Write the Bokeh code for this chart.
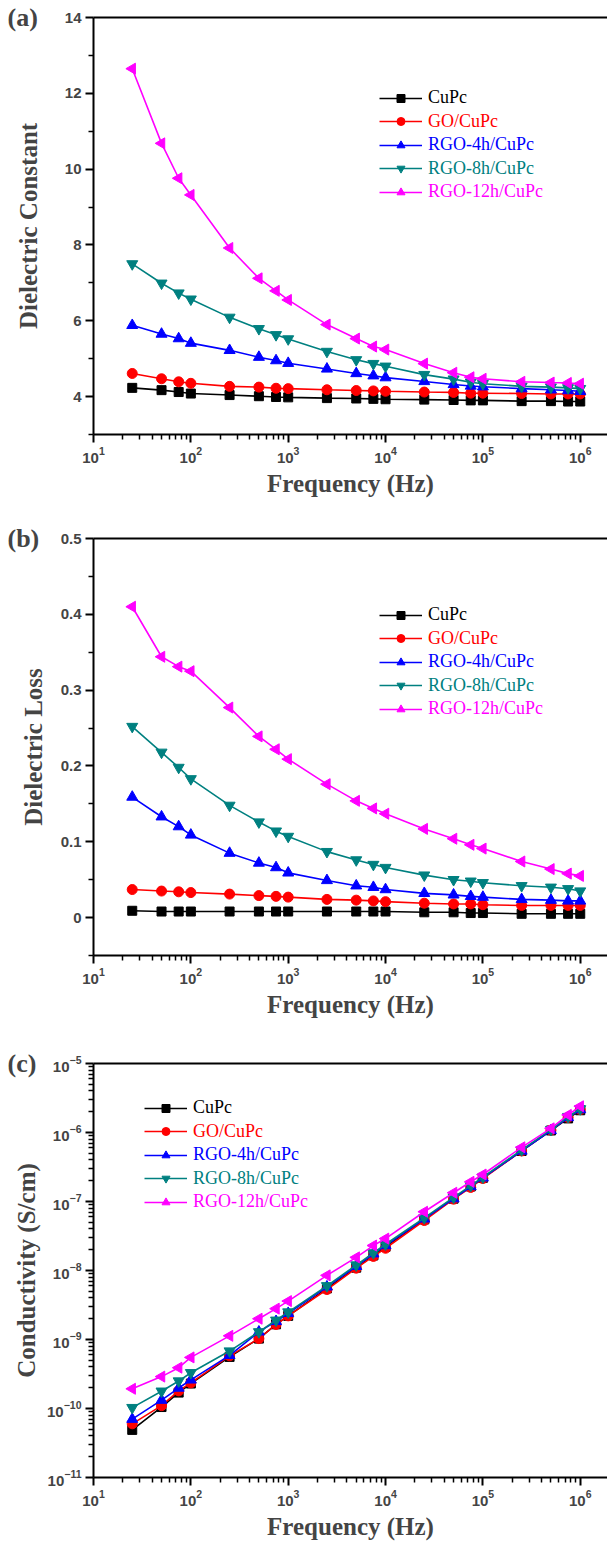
import math
from bokeh.plotting import figure
from bokeh.models import (LogAxis, FixedTicker, Legend, LegendItem, Title, Range1d)
from bokeh.layouts import column
from bokeh.embed import file_html
from bokeh.resources import INLINE

# ---------------- data ----------------
freq = [25, 50, 75, 100, 250, 500, 750, 1000, 2500, 5000, 7500, 1e4,
        2.5e4, 5e4, 7.5e4, 1e5, 2.5e5, 5e5, 7.5e5, 1e6]

series_names = ["CuPc", "GO/CuPc", "RGO-4h/CuPc", "RGO-8h/CuPc", "RGO-12h/CuPc"]
panel_letters = ["(a)", "(b)", "(c)"]

# (a) dielectric constant
eps_cupc = [4.23, 4.17, 4.12, 4.08, 4.04, 4.01, 3.99, 3.98, 3.96, 3.95, 3.94, 3.93,
            3.92, 3.91, 3.90, 3.90, 3.88, 3.88, 3.87, 3.87]
eps_go = [4.61, 4.47, 4.39, 4.35, 4.27, 4.25, 4.22, 4.21, 4.18, 4.16, 4.15, 4.14,
          4.12, 4.11, 4.09, 4.09, 4.08, 4.07, 4.07, 4.07]
eps_rgo4 = [5.88, 5.65, 5.53, 5.41, 5.22, 5.04, 4.95, 4.88, 4.73, 4.61, 4.55, 4.50,
            4.40, 4.32, 4.28, 4.26, 4.21, 4.18, 4.16, 4.14]
eps_rgo8 = [7.50, 6.99, 6.73, 6.57, 6.09, 5.79, 5.63, 5.52, 5.19, 4.97, 4.87, 4.80,
            4.58, 4.46, 4.38, 4.34, 4.27, 4.25, 4.23, 4.21]
eps_rgo12 = [12.65, 10.68, 9.76, 9.32, 7.92, 7.12, 6.79, 6.55, 5.90, 5.53, 5.32, 5.24,
             4.87, 4.63, 4.51, 4.47, 4.39, 4.37, 4.36, 4.34]

# (b) dielectric loss
loss_cupc = [0.009, 0.008, 0.008, 0.008, 0.008, 0.008, 0.008, 0.008, 0.008, 0.008, 0.008,
             0.008, 0.007, 0.007, 0.006, 0.006, 0.005, 0.005, 0.005, 0.005]
loss_go = [0.037, 0.035, 0.034, 0.033, 0.031, 0.029, 0.028, 0.027, 0.024, 0.023, 0.022,
           0.021, 0.019, 0.018, 0.018, 0.017, 0.016, 0.016, 0.016, 0.016]
loss_rgo4 = [0.159, 0.133, 0.120, 0.109, 0.085, 0.072, 0.066, 0.059, 0.049, 0.042, 0.040,
             0.037, 0.032, 0.030, 0.028, 0.027, 0.024, 0.023, 0.022, 0.022]
loss_rgo8 = [0.252, 0.218, 0.198, 0.183, 0.148, 0.126, 0.114, 0.107, 0.087, 0.076, 0.070,
             0.066, 0.056, 0.050, 0.048, 0.046, 0.042, 0.040, 0.038, 0.035]
loss_rgo12 = [0.410, 0.344, 0.331, 0.325, 0.277, 0.239, 0.222, 0.209, 0.176, 0.154, 0.144,
              0.137, 0.117, 0.104, 0.096, 0.091, 0.074, 0.064, 0.058, 0.055]

# (c) conductivity (S/cm)
sig_cupc = [4.9e-11, 1.05e-10, 1.7e-10, 2.3e-10, 5.6e-10, 1.03e-9, 1.66e-9, 2.2e-9, 5.5e-9,
            1.1e-8, 1.65e-8, 2.2e-8, 5.5e-8, 1.1e-7, 1.65e-7, 2.2e-7, 5.4e-7, 1.07e-6,
            1.6e-6, 2.1e-6]
sig_go = [6.0e-11, 1.1e-10, 1.8e-10, 2.35e-10, 5.8e-10, 1.03e-9, 1.65e-9, 2.2e-9, 5.3e-9,
          1.08e-8, 1.6e-8, 2.1e-8, 5.3e-8, 1.08e-7, 1.6e-7, 2.15e-7, 5.4e-7, 1.08e-6,
          1.65e-6, 2.15e-6]
sig_rgo4 = [7.0e-11, 1.32e-10, 1.98e-10, 2.6e-10, 5.9e-10, 1.29e-9, 1.83e-9, 2.4e-9, 5.8e-9,
            1.15e-8, 1.75e-8, 2.3e-8, 5.6e-8, 1.1e-7, 1.65e-7, 2.2e-7, 5.4e-7, 1.07e-6,
            1.65e-6, 2.15e-6]
sig_rgo8 = [1.03e-10, 1.78e-10, 2.5e-10, 3.3e-10, 6.8e-10, 1.29e-9, 1.9e-9, 2.5e-9, 6.0e-9,
            1.2e-8, 1.8e-8, 2.4e-8, 5.8e-8, 1.15e-7, 1.7e-7, 2.25e-7, 5.6e-7, 1.1e-6,
            1.7e-6, 2.2e-6]
sig_rgo12 = [1.93e-10, 2.9e-10, 3.9e-10, 5.5e-10, 1.13e-9, 2.0e-9, 2.8e-9, 3.6e-9, 8.5e-9,
             1.55e-8, 2.3e-8, 2.9e-8, 7.1e-8, 1.34e-7, 1.93e-7, 2.46e-7, 6.1e-7, 1.15e-6,
             1.8e-6, 2.4e-6]

x_major = [1e1, 1e2, 1e3, 1e4, 1e5, 1e6]
eps_major = [4, 6, 8, 10, 12, 14]
eps_minor = [3, 5, 7, 9, 11, 13]
loss_major = [0.0, 0.1, 0.2, 0.3, 0.4, 0.5]
loss_minor = [-0.05, 0.05, 0.15, 0.25, 0.35, 0.45]
sig_major = [1e-11, 1e-10, 1e-9, 1e-8, 1e-7, 1e-6, 1e-5]

# ---------------- styles ----------------
colors = ["#000000", "#ff0000", "#0000ff", "#008080", "#ff00ff"]
markers = ["square", "circle", "triangle", "inverted_triangle", "triangle"]
angles = [0, 0, 0, 0, math.pi / 2]
msizes = [9, 10, 11, 11, 11]

SANS = "Liberation Sans"
SERIF = "Liberation Serif"


def log_minor(majors):
    out = []
    for m in majors[:-1]:
        out += [m * k for k in range(2, 10)]
    return out


def style_axis(ax, label, standoff):
    ax.axis_label = label
    ax.axis_label_text_font = SERIF
    ax.axis_label_text_font_style = "bold"
    ax.axis_label_text_font_size = "25px"
    ax.axis_label_standoff = standoff
    ax.major_label_text_font = SANS
    ax.major_label_text_font_style = "bold"
    ax.major_label_text_font_size = "15px"
    ax.major_label_standoff = 4
    ax.axis_line_width = 2
    ax.axis_line_color = "black"
    ax.major_tick_line_width = 2
    ax.minor_tick_line_width = 1.5
    ax.major_tick_in = 0
    ax.major_tick_out = 8
    ax.minor_tick_in = 0
    ax.minor_tick_out = 5


def make_panel(height, top, bottom, ylog, yr, ymaj, ymin, ylabel, ystandoff,
               ydata, letter, leg_x, leg_y0):
    p = figure(width=607, height=height,
               x_axis_type="log", y_axis_type="log" if ylog else "linear",
               x_range=Range1d(10, 10 ** 6.28), y_range=Range1d(*yr),
               output_backend="svg", toolbar_location=None,
               min_border_left=93, min_border_right=0,
               min_border_top=top, min_border_bottom=bottom)
    p.xgrid.visible = False
    p.ygrid.visible = False
    p.outline_line_color = None
    p.background_fill_color = "white"
    p.border_fill_color = "white"

    xa = p.xaxis[0]
    xa.ticker = FixedTicker(ticks=x_major, minor_ticks=log_minor(x_major + [1e7]))
    style_axis(xa, "Frequency (Hz)", 4)

    ya = p.yaxis[0]
    ya.ticker = FixedTicker(ticks=ymaj, minor_ticks=ymin)
    style_axis(ya, ylabel, ystandoff)

    top_ax = LogAxis(ticker=FixedTicker(ticks=[]), axis_line_width=2,
                     major_tick_line_color=None, minor_tick_line_color=None,
                     major_tick_out=0, minor_tick_out=0, major_label_standoff=0,
                     major_label_text_font_size="0px")
    p.add_layout(top_ax, "above")

    # panel letter, drawn left of the top tick label
    p.add_layout(Title(text=letter, align="left", offset=-86, standoff=-32,
                       vertical_align="middle", text_font=SERIF, text_font_style="bold",
                       text_font_size="26px"), "above")

    renderers = []
    for name, ys, c, m, a, s in zip(series_names, ydata, colors, markers, angles, msizes):
        lr = p.line(freq, ys, line_color=c, line_width=1.6)
        sr = p.scatter(freq, ys, marker=m, angle=a, size=s, fill_color=c, line_color=c)
        renderers.append((name, c, [lr, sr]))

    for i, (name, c, rs) in enumerate(renderers):
        leg = Legend(items=[LegendItem(label=name, renderers=rs)],
                     location=(leg_x, leg_y0 - 23.5 * i),
                     background_fill_alpha=0, border_line_color=None,
                     padding=0, margin=0, spacing=0,
                     glyph_width=43, glyph_height=20, label_height=20,
                     label_standoff=6, label_text_color=c,
                     label_text_font=SERIF, label_text_font_size="18px")
        p.add_layout(leg)
    return p


pa = make_panel(505, 17, 71, False, (3, 14), eps_major, eps_minor,
                "Dielectric Constant", 20,
                [eps_cupc, eps_go, eps_rgo4, eps_rgo8, eps_rgo12],
                panel_letters[0], 286, 326)
pb = make_panel(515, 33, 63, False, (-0.05, 0.5), loss_major, loss_minor,
                "Dielectric Loss", 11,
                [loss_cupc, loss_go, loss_rgo4, loss_rgo8, loss_rgo12],
                panel_letters[1], 286, 330)
pc = make_panel(522, 43, 62, True, (1e-11, 1e-5), sig_major, log_minor(sig_major),
                "Conductivity (S/cm)", 4,
                [sig_cupc, sig_go, sig_rgo4, sig_rgo8, sig_rgo12],
                panel_letters[2], 51, 359)

layout = column(pa, pb, pc, spacing=0)
open("out.html", "w").write(file_html(layout, INLINE))
